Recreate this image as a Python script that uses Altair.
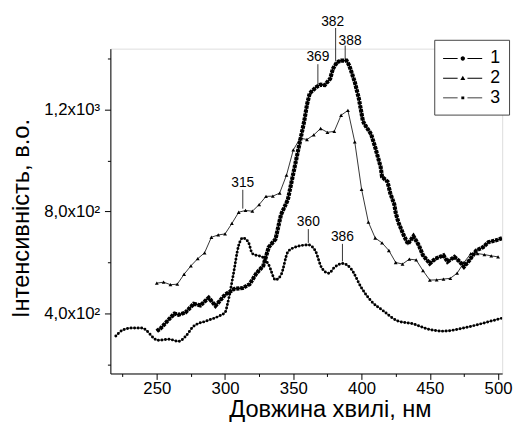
import altair as alt
import pandas as pd

# ---- data ----
c1_wl = [220, 225, 231, 239, 251, 259, 266, 271, 277, 287, 296, 300, 302, 306, 310, 313, 317, 320,
         328, 332, 337, 341, 346, 350, 361, 366, 371, 376, 380, 386, 392, 400, 407, 416, 426, 438,
         448, 460, 472, 484, 496, 503]
c1_val = [312, 335, 343, 343, 295, 299, 291, 310, 350, 372, 391, 404, 442, 551, 667, 696, 680, 635,
          619, 590, 532, 551, 641, 657, 669, 647, 577, 558, 580, 596, 577, 500, 449, 410, 372, 359,
          340, 331, 340, 355, 372, 382]

c2_wl = [250, 255, 260, 265, 270, 275, 280, 285, 290, 295, 300, 305, 310, 315, 320, 325, 330, 335,
         340, 345, 350, 355, 360, 365, 370, 375, 380, 385, 390, 395, 400, 405, 410, 415, 420, 425,
         430, 435, 440, 445, 450, 455, 460, 465, 470, 475, 480, 485, 490, 495, 500]
c2_val = [519, 523, 513, 515, 554, 587, 615, 638, 699, 708, 712, 753, 797, 804, 801, 827, 859, 860,
          872, 942, 1041, 1087, 1082, 1100, 1125, 1110, 1114, 1177, 1196, 1073, 887, 758, 696, 677,
          647, 600, 594, 613, 610, 568, 531, 532, 535, 538, 558, 600, 635, 635, 631, 626, 622]

c3_wl = [250, 253, 259, 263, 266, 271, 277, 282, 288, 293, 300, 307, 313, 318, 323, 328, 332, 337,
         341, 346, 350, 355, 358, 360, 362, 367, 370, 373, 377, 379, 382, 385, 389, 391, 395, 398,
         401, 403, 407, 410, 414, 415, 419, 421, 424, 425, 427, 431, 434, 438, 442, 445, 450, 454,
         460, 463, 468, 472, 475, 479, 484, 489, 493, 498, 503]
c3_val = [331, 343, 378, 400, 395, 404, 438, 432, 462, 430, 474, 497, 500, 515, 558, 587, 660, 692,
          788, 846, 949, 1077, 1154, 1218, 1263, 1288, 1297, 1295, 1320, 1359, 1385, 1391, 1391, 1372,
          1308, 1243, 1154, 1135, 1103, 1051, 974, 936, 917, 872, 827, 795, 757, 705, 673, 703, 667,
          628, 596, 615, 628, 603, 622, 603, 583, 609, 647, 660, 680, 686, 695]

ann_label = ["315", "360", "386", "369", "382", "388"]
ann_wl = [313, 361, 386, 368, 381, 388]
ann_lo = [811, 677, 604, 1296, 1388, 1396]
ann_hi = [885, 731, 673, 1377, 1519, 1450]

series_names = ["1", "2", "3"]

# ---- tables ----
df = pd.concat([
    pd.DataFrame({"wl": c1_wl, "val": c1_val, "s": "1"}),
    pd.DataFrame({"wl": c2_wl, "val": c2_val, "s": "2"}),
    pd.DataFrame({"wl": c3_wl, "val": c3_val, "s": "3"}),
], ignore_index=True)
ann = pd.DataFrame({"label": ann_label, "wl": ann_wl, "val": ann_lo, "val2": ann_hi})

FONT = "Liberation Sans"

xscale = alt.Scale(domain=[216, 503], nice=False, zero=False)
yscale = alt.Scale(domain=[165, 1438], nice=False, zero=False)

xaxis = alt.Axis(
    values=[225, 250, 275, 300, 325, 350, 375, 400, 425, 450, 475, 500],
    labelExpr="datum.value % 50 === 0 ? datum.label : ''",
    format="d",
    tickSize={"condition": {"test": "datum.value % 50 === 0", "value": 6}, "value": 3},
    title="Довжина хвилі, нм", titleFontSize=24, titleFont=FONT, titleFontWeight="normal",
    titleX=223, titleY=44, titleAlign="center", titleBaseline="alphabetic",
    labelFont=FONT, labelFontSize=17, labelPadding=1, labelOverlap=False, labelFlush=False,
    grid=False, domainColor="black", tickColor="black", labelColor="black", titleColor="black",
)
yaxis = alt.Axis(
    values=[200, 400, 600, 800, 1000, 1200, 1400],
    labelExpr="datum.value % 400 === 0 ? replace(format(datum.value >= 1000 ? datum.value/1000 : datum.value/100, '.1f'), '.', ',') + (datum.value >= 1000 ? 'x10³' : 'x10²') : ''",
    tickSize={"condition": {"test": "datum.value % 400 === 0", "value": 6}, "value": 3},
    title="Інтенсивність, в.о.", titleFontSize=24, titleFont=FONT, titleFontWeight="normal",
    titleX=-83, titleY=172, titleAlign="center", titleBaseline="alphabetic", titleAngle=270,
    labelFont=FONT, labelFontSize=17, labelPadding=5, labelOverlap=False, labelFlush=False,
    grid=False, domainColor="black", tickColor="black", labelColor="black", titleColor="black",
)

X = alt.X("wl:Q", scale=xscale, axis=xaxis)
Y = alt.Y("val:Q", scale=yscale, axis=yaxis)

base = alt.Chart(df).encode(x=X, y=Y)

c1 = base.transform_filter("datum.s === '1'")
c2 = base.transform_filter("datum.s === '2'")
c3 = base.transform_filter("datum.s === '3'")

l1a = c1.mark_line(color="black", strokeWidth=0.7, interpolate="monotone", clip=True)
l1b = c1.mark_line(color="black", strokeWidth=3.0, strokeDash=[0, 3.6], strokeCap="round",
                   interpolate="monotone", clip=True)
l2a = c2.mark_line(color="black", strokeWidth=0.8)
l2b = c2.mark_point(shape="triangle-up", filled=True, color="black", size=15, opacity=1)
l3a = c3.mark_line(color="black", strokeWidth=1.6, clip=True)
l3b = c3.mark_line(color="black", strokeWidth=4.2, strokeDash=[3.2, 0.9], strokeCap="butt", clip=True)

# legend carrier (invisible points); symbols = two thin filled bars + marker
seg = "M-0.91,-0.045H0.43V0.045H-0.91Z M1.34,-0.045H2.7V0.045H1.34Z "
paths = [
    seg + "M0.71,0a0.2,0.2 0 1,0 0.4,0a0.2,0.2 0 1,0 -0.4,0Z",
    seg + "M0.68,0.16L0.91,-0.22L1.14,0.16Z",
    seg + "M0.775,-0.136H1.045V0.136H0.775Z",
]
leg = base.mark_point(filled=True, color="black", opacity=0).encode(
    shape=alt.Shape("s:N", scale=alt.Scale(domain=series_names, range=paths),
                    legend=alt.Legend(
                        title=None, orient="none", legendX=329, legendY=-9,
                        padding=8, strokeColor="#444", fillColor="white",
                        labelFont=FONT, labelFontSize=18, labelColor="black",
                        symbolSize=484, symbolStrokeWidth=0, symbolFillColor="black",
                        symbolOpacity=1, rowPadding=0, labelOffset=27,
                    ))
)

abase = alt.Chart(ann).encode(x=X)
rules = abase.mark_rule(color="black", strokeWidth=0.8).encode(y=Y, y2="val2:Q")
Y2 = alt.Y("val2:Q", scale=yscale, axis=yaxis)
tmain = abase.transform_filter("datum.label !== '382' && datum.label !== '388'").mark_text(
    font=FONT, fontSize=14, color="black", baseline="alphabetic", dy=-3).encode(y=Y2, text="label:N")
t382 = abase.transform_filter("datum.label === '382'").mark_text(
    font=FONT, fontSize=14, color="black", baseline="alphabetic", dy=-2, dx=-3).encode(y=Y2, text="label:N")
t388 = abase.transform_filter("datum.label === '388'").mark_text(
    font=FONT, fontSize=14, color="black", baseline="alphabetic", dy=-1, dx=5).encode(y=Y2, text="label:N")

chart = alt.layer(l1a, l1b, l2a, l2b, l3a, l3b, rules, tmain, t382, t388, leg).properties(
    width=398, height=330,
    padding={"left": 104, "top": 38, "right": 11, "bottom": 48},
    autosize=alt.AutoSizeParams(type="none"),
).configure_view(stroke=None).configure(background="white")

chart.save("out.html", embed_options={"renderer": "svg", "actions": False})
